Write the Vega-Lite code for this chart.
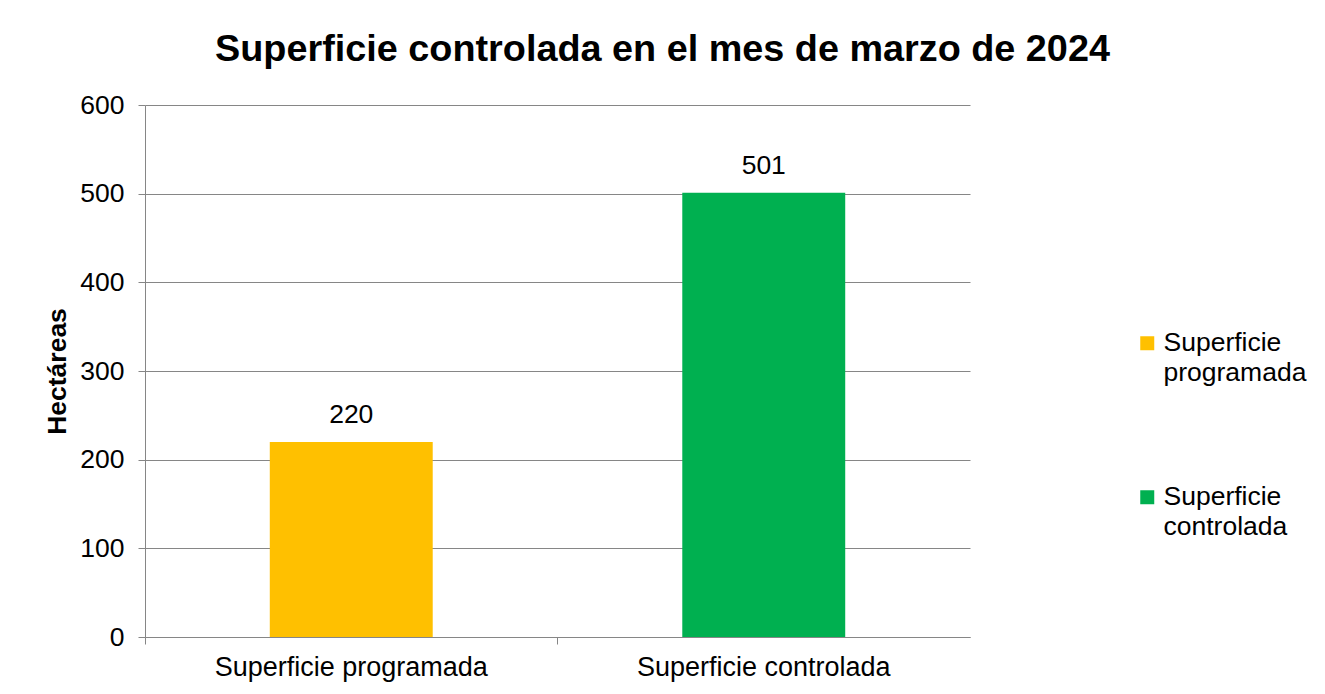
{
  "$schema": "https://vega.github.io/schema/vega-lite/v6.json",
  "autosize": {"type": "none"},
  "width": 825,
  "height": 532,
  "padding": {"left": 145, "top": 105, "right": 355, "bottom": 57},
  "background": "white",
  "title": {
    "text": "Superficie controlada en el mes de marzo de 2024",
    "font": "Liberation Sans",
    "fontSize": 37.8,
    "fontWeight": "bold",
    "color": "#000000",
    "anchor": "middle",
    "dx": 105,
    "offset": 23
  },
  "data": {
    "values": [
      {"categoria": "Superficie programada", "hectareas": 220},
      {"categoria": "Superficie controlada", "hectareas": 501}
    ]
  },
  "encoding": {
    "x": {
      "field": "categoria",
      "type": "nominal",
      "sort": null,
      "scale": {"paddingInner": 0, "paddingOuter": 0},
      "axis": {
        "title": null,
        "labelAngle": 0,
        "labelFont": "Liberation Sans",
        "labelFontSize": 27,
        "labelColor": "#000000",
        "labelPadding": 10,
        "labelLimit": 500,
        "bandPosition": 0,
        "tickSize": 7,
        "tickColor": "#868686",
        "domainColor": "#868686"
      }
    },
    "y": {
      "field": "hectareas",
      "type": "quantitative",
      "scale": {"domain": [0, 600]},
      "axis": {
        "title": "Hectáreas",
        "titleFont": "Liberation Sans",
        "titleFontSize": 26.5,
        "titleFontWeight": "bold",
        "titleColor": "#000000",
        "titlePadding": 8,
        "values": [0, 100, 200, 300, 400, 500, 600],
        "labelFont": "Liberation Sans",
        "labelFontSize": 26.5,
        "labelColor": "#000000",
        "labelPadding": 14,
        "tickSize": 7,
        "tickColor": "#868686",
        "domainColor": "#868686",
        "gridColor": "#868686",
        "grid": true
      }
    }
  },
  "layer": [
    {
      "mark": {"type": "bar", "width": {"band": 0.395}},
      "encoding": {
        "color": {
          "field": "categoria",
          "type": "nominal",
          "sort": null,
          "scale": {
            "domain": ["Superficie programada", "Superficie controlada"],
            "range": ["#FFC000", "#00B050"]
          },
          "legend": {
            "title": null,
            "orient": "none",
            "legendX": 989,
            "legendY": 225,
            "symbolType": "square",
            "symbolSize": 196,
            "symbolStrokeWidth": 0,
            "labelFont": "Liberation Sans",
            "labelFontSize": 26.5,
            "labelColor": "#000000",
            "labelLimit": 300,
            "labelExpr": "split(datum.label, ' ')",
            "rowPadding": 97,
            "labelOffset": 3,
            "encode": {
              "labels": {"update": {"lineHeight": {"value": 30}}}
            }
          }
        }
      }
    },
    {
      "mark": {
        "type": "text",
        "dy": -27,
        "font": "Liberation Sans",
        "fontSize": 26.5,
        "color": "#000000"
      },
      "encoding": {
        "text": {"field": "hectareas", "type": "quantitative"}
      }
    }
  ],
  "config": {
    "view": {"stroke": null},
    "axis": {"gridWidth": 1, "domainWidth": 1, "tickWidth": 1}
  }
}
